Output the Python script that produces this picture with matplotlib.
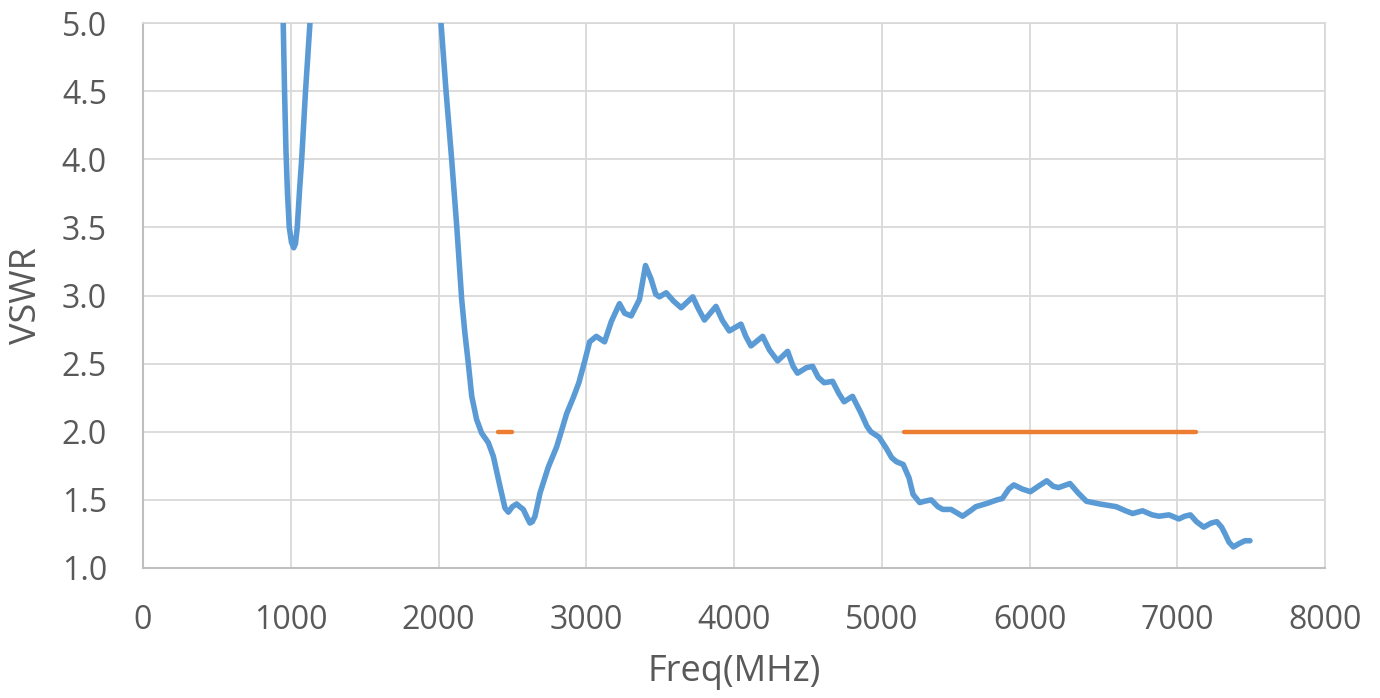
import matplotlib
matplotlib.use("Agg")
from matplotlib import pyplot as plt

# measured VSWR curve (values above 5.0 are only there so the line leaves the top)
freq = [940, 949, 958, 968, 978, 990, 1005, 1020, 1032, 1044, 1060, 1074, 1100, 1130, 1150,
        2005, 2017, 2051, 2089, 2124, 2157, 2179, 2202, 2225, 2258, 2292, 2337, 2371,
        2416, 2450, 2473, 2500, 2529, 2550, 2574, 2600, 2619, 2635, 2653, 2687, 2743,
        2800, 2868, 2912, 2950, 2990, 3023, 3068, 3124, 3170, 3225, 3260, 3304, 3360,
        3401, 3439, 3470, 3495, 3541, 3590, 3642, 3721, 3760, 3800, 3878, 3920, 3968,
        4047, 4080, 4115, 4194, 4240, 4295, 4363, 4400, 4430, 4490, 4532, 4570, 4610,
        4667, 4710, 4745, 4802, 4858, 4900, 4926, 4982, 5030, 5067, 5100, 5145, 5185,
        5212, 5257, 5290, 5335, 5380, 5413, 5469, 5547, 5600, 5637, 5715, 5780, 5816,
        5860, 5894, 5950, 6006, 6060, 6117, 6160, 6196, 6274, 6330, 6385, 6475, 6587,
        6650, 6698, 6765, 6830, 6877, 6944, 7011, 7050, 7089, 7130, 7179, 7230, 7268,
        7300, 7324, 7350, 7380, 7420, 7458, 7492]
vswr = [5.3, 5.0, 4.5, 4.05, 3.75, 3.5, 3.39, 3.35, 3.38, 3.5, 3.78, 4.0, 4.5, 5.0, 5.3,
        5.3, 5.0, 4.5, 4.0, 3.5, 2.97, 2.72, 2.50, 2.26, 2.09, 1.99, 1.92, 1.82,
        1.60, 1.44, 1.41, 1.45, 1.47, 1.45, 1.43, 1.37, 1.33, 1.34, 1.38, 1.55, 1.74,
        1.89, 2.135, 2.25, 2.36, 2.52, 2.66, 2.70, 2.66, 2.81, 2.94, 2.87, 2.85, 2.97,
        3.22, 3.12, 3.01, 2.99, 3.02, 2.96, 2.91, 2.99, 2.90, 2.82, 2.92, 2.82, 2.74,
        2.79, 2.70, 2.63, 2.70, 2.60, 2.52, 2.59, 2.48, 2.43, 2.47, 2.48, 2.40, 2.36,
        2.37, 2.28, 2.22, 2.26, 2.14, 2.04, 2.00, 1.96, 1.88, 1.81, 1.78, 1.76, 1.66,
        1.54, 1.48, 1.49, 1.50, 1.45, 1.43, 1.43, 1.38, 1.42, 1.45, 1.475, 1.50, 1.51,
        1.58, 1.61, 1.58, 1.56, 1.60, 1.64, 1.60, 1.59, 1.62, 1.55, 1.49, 1.47, 1.45,
        1.42, 1.40, 1.42, 1.39, 1.38, 1.39, 1.36, 1.38, 1.39, 1.34, 1.30, 1.33, 1.34,
        1.30, 1.25, 1.19, 1.155, 1.18, 1.20, 1.20]

# VSWR 2.0 limit over the two bands
band_start = [2400, 5150]
band_end = [2500, 7125]
limit = 2.0

xticks = [0, 1000, 2000, 3000, 4000, 5000, 6000, 7000, 8000]
yticks = [1.0, 1.5, 2.0, 2.5, 3.0, 3.5, 4.0, 4.5, 5.0]

plt.rcParams["font.family"] = ["Open Sans", "DejaVu Sans"]
text_grey = "#595959"
grid_grey = "#d9d9d9"

fig = plt.figure(figsize=(13.8, 6.98), dpi=100)
ax = fig.add_axes([143 / 1380, 1 - 568 / 698, 1182 / 1380, 545 / 698])

ax.plot(freq, vswr, color="#5b9bd5", lw=4.0, solid_joinstyle="round",
        solid_capstyle="round", zorder=3)
for lo, hi in zip(band_start, band_end):
    ax.plot([lo, hi], [limit, limit], color="#ed7d31", lw=3.2,
            solid_capstyle="round", zorder=3)

ax.set_xlim(0, 8000)
ax.set_ylim(1.0, 5.0)
ax.set_xticks(xticks)
ax.set_yticks(yticks)
ax.set_yticklabels([f"{v:.1f}" for v in yticks])
ax.grid(True, color=grid_grey, lw=1.3)
ax.set_axisbelow(True)
ax.tick_params(length=0, pad=26, labelsize=23, labelcolor=text_grey)
for side in ["top", "right"]:
    ax.spines[side].set_color(grid_grey)
    ax.spines[side].set_linewidth(1.3)
for side in ["left", "bottom"]:
    ax.spines[side].set_color("#bfbfbf")
    ax.spines[side].set_linewidth(1.5)

ax.set_xlabel("Freq(MHz)", fontsize=26, color=text_grey, va="center")
ax.xaxis.set_label_coords(0.5, (568 - 672) / 545)
ax.set_ylabel("VSWR", fontsize=26, color=text_grey, va="center")
ax.yaxis.set_label_coords((27 - 143) / 1182, 0.5)

fig.savefig("out.png", dpi=100)
